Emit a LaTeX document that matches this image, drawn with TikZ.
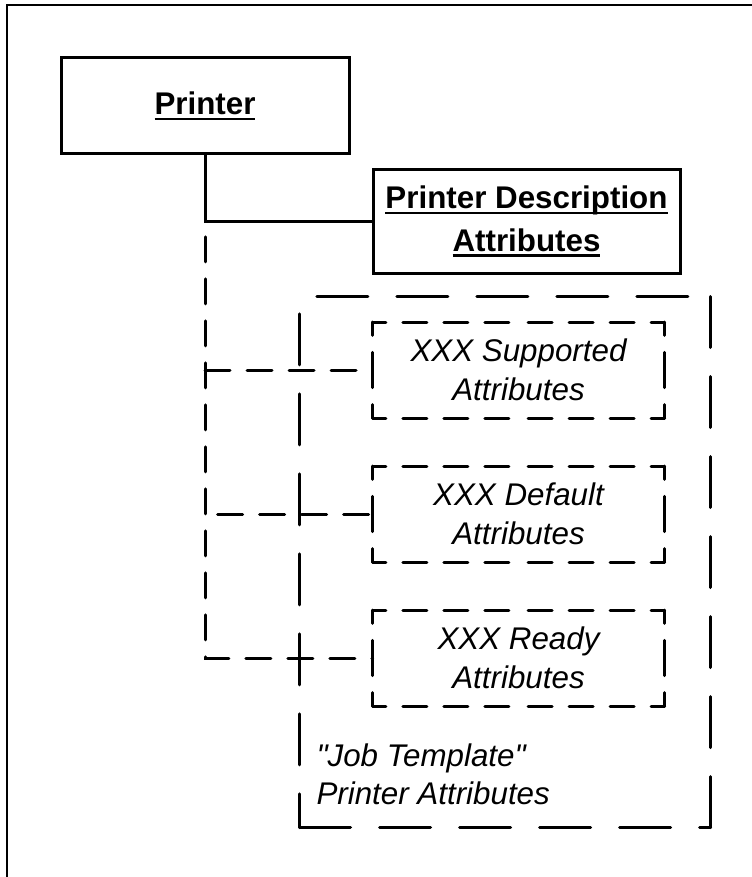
\documentclass[tikz,border=0pt]{standalone}
\usepackage{fontspec}
\setmainfont{Liberation Sans}[Ligatures=TeXOff]
% thick underline for the bold titles
\newcommand\ulbar[1]{\setbox0\hbox{#1}\leavevmode\rlap{\vrule height -2.2pt depth 4pt width \wd0}\box0}
\tikzset{every picture/.style={line width=0.75pt}}
\tikzset{
  solidbox/.style={draw, line width=2.25pt, align=center, inner sep=0pt,
    font=\bfseries\fontsize{23.5}{32}\selectfont},
  dashbox/.style={align=center, inner sep=0pt, minimum width=218.25pt, minimum height=71.25pt,
    font=\itshape\fontsize{23.5}{29}\selectfont},
  boxside/.style={line width=2.25pt, line cap=round, dash pattern=on 18pt off 12.75pt, dash phase=7.9pt},
  bigside/.style={line width=2.25pt, line cap=round, dash pattern=on 38.25pt off 21.75pt},
  conn/.style={line width=2.25pt, line cap=round, dash pattern=on 18.75pt off 12.75pt},
  itlabel/.style={align=left, inner sep=0pt, font=\itshape\fontsize{23.5}{29}\selectfont}
}

\begin{document}
\begin{tikzpicture}[x=0.75pt,y=0.75pt,yscale=-1,xscale=1]
	\useasboundingbox (0,0) rectangle (751,877);
	
	%Frame
	\draw [line width=1.5pt]    (7,885) -- (7,5) -- (760,5) ;
	
	%Printer
	\node [solidbox, minimum width=216pt, minimum height=72pt] (printer) at (205,106) {\ulbar{Printer}};
	%Printer Description Attributes
	\node [solidbox, minimum width=230.25pt, minimum height=77.25pt] (pda) at (526.5,221.5) {\ulbar{Printer Description}\\\ulbar{Attributes}};
	
	%Job Template group
	\node [inner sep=0pt, minimum width=307.5pt, minimum height=397.5pt] (jobtpl) at (505,562) {};
	\draw [bigside, dash phase=46.9pt]    (jobtpl.north west) -- (jobtpl.south west) ;
	\draw [bigside]    (jobtpl.south west) -- (jobtpl.south east) ;
	\draw [bigside]    (jobtpl.south east) -- (jobtpl.north east) ;
	\draw [bigside, dash phase=46.9pt]    (jobtpl.north west) -- (jobtpl.north east) ;
	\node [itlabel, anchor=north west] (jobtxt) at (316,743) {"Job Template"\\Printer Attributes};
	
	%XXX boxes
	\node [dashbox] (supported) at (518.5,370) {XXX Supported\\Attributes};
	\node [dashbox] (default) at (518.5,514) {XXX Default\\Attributes};
	\node [dashbox] (ready) at (518.5,658) {XXX Ready\\Attributes};
	\foreach \b in {supported,default,ready}
	  \foreach \c/\m in {north west/north,north west/west,north east/north,north east/east,
	                     south west/south,south west/west,south east/south,south east/east}
	    \draw [boxside]    (\b.\c) -- (\b.\m) ;
	
	%Solid connector
	\draw [line width=2.25pt]    (printer.south) |- (pda.west) ;
	%Dashed trunk
	\draw [conn, dash phase=20pt]    (printer.south |- pda.west) -- (printer.south |- ready.west) -- (ready.west) ;
	%Dashed branches
	\draw [conn]    (printer.south |- supported.west) -- (supported.west) ;
	\draw [conn, dash phase=22pt]    (printer.south |- default.west) -- (default.west) ;
	
\end{tikzpicture}
\end{document}
